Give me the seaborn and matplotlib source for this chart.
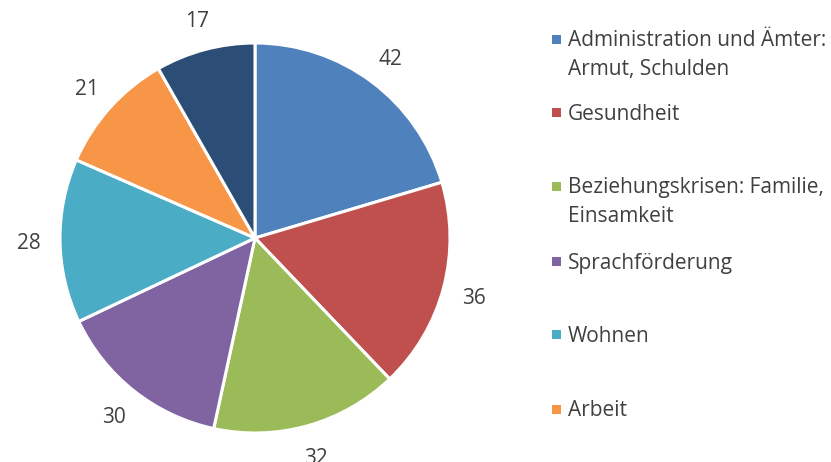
import matplotlib
matplotlib.use("Agg")
import matplotlib.pyplot as plt
import seaborn as sns
from matplotlib.patches import Rectangle

sns.set_theme(style="white")
plt.rcParams['font.family'] = ['Open Sans', 'DejaVu Sans']

# Data
categories = [
    "Administration und Ämter:\nArmut, Schulden",
    "Gesundheit",
    "Beziehungskrisen: Familie,\nEinsamkeit",
    "Sprachförderung",
    "Wohnen",
    "Arbeit",
    "",
]
values = [42, 36, 32, 30, 28, 21, 17]
colors = ["#4F81BD", "#C0504D", "#9BBB59", "#8064A2", "#4BACC6", "#F79646", "#2C4D75"]
legend_shown = 6  # the last legend entry is cut off in the reference

W, H = 831, 462
fig = plt.figure(figsize=(W / 100, H / 100), dpi=100)
cx, cy, r = 255, 238, 195
ax = fig.add_axes([(cx - r) / W, (H - cy - r) / H, 2 * r / W, 2 * r / H])

text_color = "#404040"
fs = 15
wedges, texts = ax.pie(
    values,
    labels=[str(v) for v in values],
    colors=colors,
    startangle=90,
    counterclock=False,
    labeldistance=1.16,
    wedgeprops=dict(edgecolor="white", linewidth=2.2),
    textprops=dict(color=text_color, fontsize=fs),
)
for t in texts:
    t.set_horizontalalignment("center")
    t.set_verticalalignment("center_baseline")
ax.set_xlim(-1, 1)
ax.set_ylim(-1, 1)
ax.set_aspect("equal")
ax.axis("off")

# Legend (manual placement to mirror the reference's even slots)
marker_y = [39, 112, 186, 261, 334, 409]
line_pitch = 29
for i in range(legend_shown):
    y = marker_y[i]
    fig.add_artist(Rectangle((552 / W, (H - y - 4.5) / H), 9 / W, 9 / H,
                             transform=fig.transFigure, color=colors[i], lw=0))
    for k, line in enumerate(categories[i].split("\n")):
        fig.text(568 / W, (H - y - k * line_pitch - 7.5) / H, line,
                 ha="left", va="baseline", fontsize=fs, color=text_color,
                 transform=fig.transFigure)

fig.savefig("out.png", dpi=100, facecolor="white")
